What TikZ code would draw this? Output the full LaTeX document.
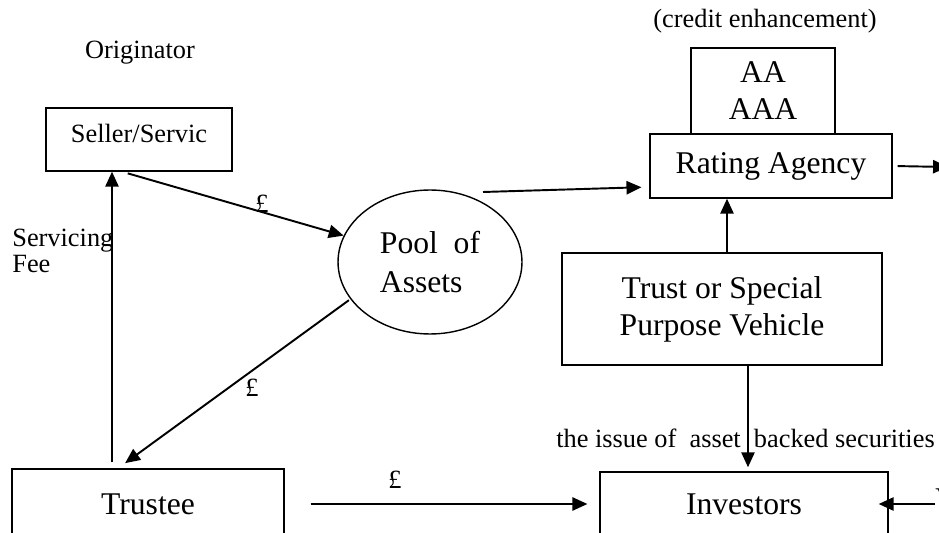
\documentclass[tikz,border=0pt]{standalone}
\usepackage{fontspec}
\setmainfont{Liberation Serif}
\usetikzlibrary{arrows.meta,shapes.geometric}
\begin{document}
\begin{tikzpicture}[x=0.02cm,y=-0.02cm,
  box/.style={draw,line width=0.8pt,inner sep=0pt,align=center,font=\fontsize{18}{21}\selectfont},
  arr/.style={line width=1.1pt,-{Triangle[length=8.5pt,width=7.5pt]}},
  lbl/.style={inner sep=0pt,font=\fontsize{15}{17}\selectfont}]
\useasboundingbox (0,0) rectangle (939,533);
\node[lbl,anchor=base] (orig) at (140,59) {Originator};
\node[box,minimum width=3.72cm,minimum height=1.26cm,font=\fontsize{15}{17}\selectfont,text depth=7.5pt] (seller) at (139,139.5) {Seller/Servic};
\node[box,ellipse,minimum width=3.68cm,minimum height=2.88cm,align=left,font=\fontsize{18}{22}\selectfont] (pool) at (430,262) {Pool\ \ of\\Assets};
\node[box,minimum width=5.44cm,minimum height=1.4cm] (trustee) at (148,504) {Trustee};
\node[box,minimum width=5.76cm,minimum height=1.28cm] (investors) at (744,504) {Investors};
\node[box,minimum width=6.4cm,minimum height=2.24cm] (spv) at (722,309) {Trust or Special\\Purpose Vehicle};
\node[box,minimum width=4.84cm,minimum height=1.28cm] (rating) at (771,166) {Rating Agency};
\node[box,minimum width=2.88cm,minimum height=1.72cm] (grade) at (763,91) {AA\\AAA};
\node[lbl,anchor=base] (credit) at (765,28) {(credit enhancement)};
\node[lbl,anchor=west,align=left,font=\fontsize{15}{14.5}\selectfont] (fee) at (12,251) {Servicing\\Fee};
\node[lbl,anchor=base west] (issue) at (556,447) {the issue of\ \ asset\ \ backed securities};
\node[lbl] (pound1) at (262,204) {£};
\node[lbl] (pound2) at (252,388) {£};
\node[lbl] (pound3) at (395,480) {£};
\node[inner sep=0pt,anchor=base west,font=\fontsize{18}{21}\selectfont] (vtext) at (935,509) {V};
\coordinate (poolout) at (483,192);
\coordinate (ratingout) at (948,167);
\draw[arr,shorten <=3.4pt] (trustee.north -| 112,0) -- (seller.south -| 112,0);
\draw[arr,shorten <=3.4pt] (seller.south -| 122,0) -- (pool.163);
\draw[arr,shorten <=1pt,shorten >=5pt] (pool.205) -- (trustee.north -| 118,0);
\draw[arr,shorten >=4.5pt] (poolout) -- (rating.west |- 0,187);
\draw[arr,shorten <=2.8pt] (rating.east) -- (ratingout);
\draw[arr] (spv.north -| 727,0) -- (rating.south -| 727,0);
\draw[arr,shorten >=2.3pt] (spv.south -| 748,0) -- (investors.north -| 748,0);
\draw[arr,shorten <=14.8pt,shorten >=6.8pt] (trustee.east) -- (investors.west);
\draw[arr,shorten >=-5.7pt] (vtext.west |- investors.east) -- (investors.east);
\end{tikzpicture}
\end{document}
